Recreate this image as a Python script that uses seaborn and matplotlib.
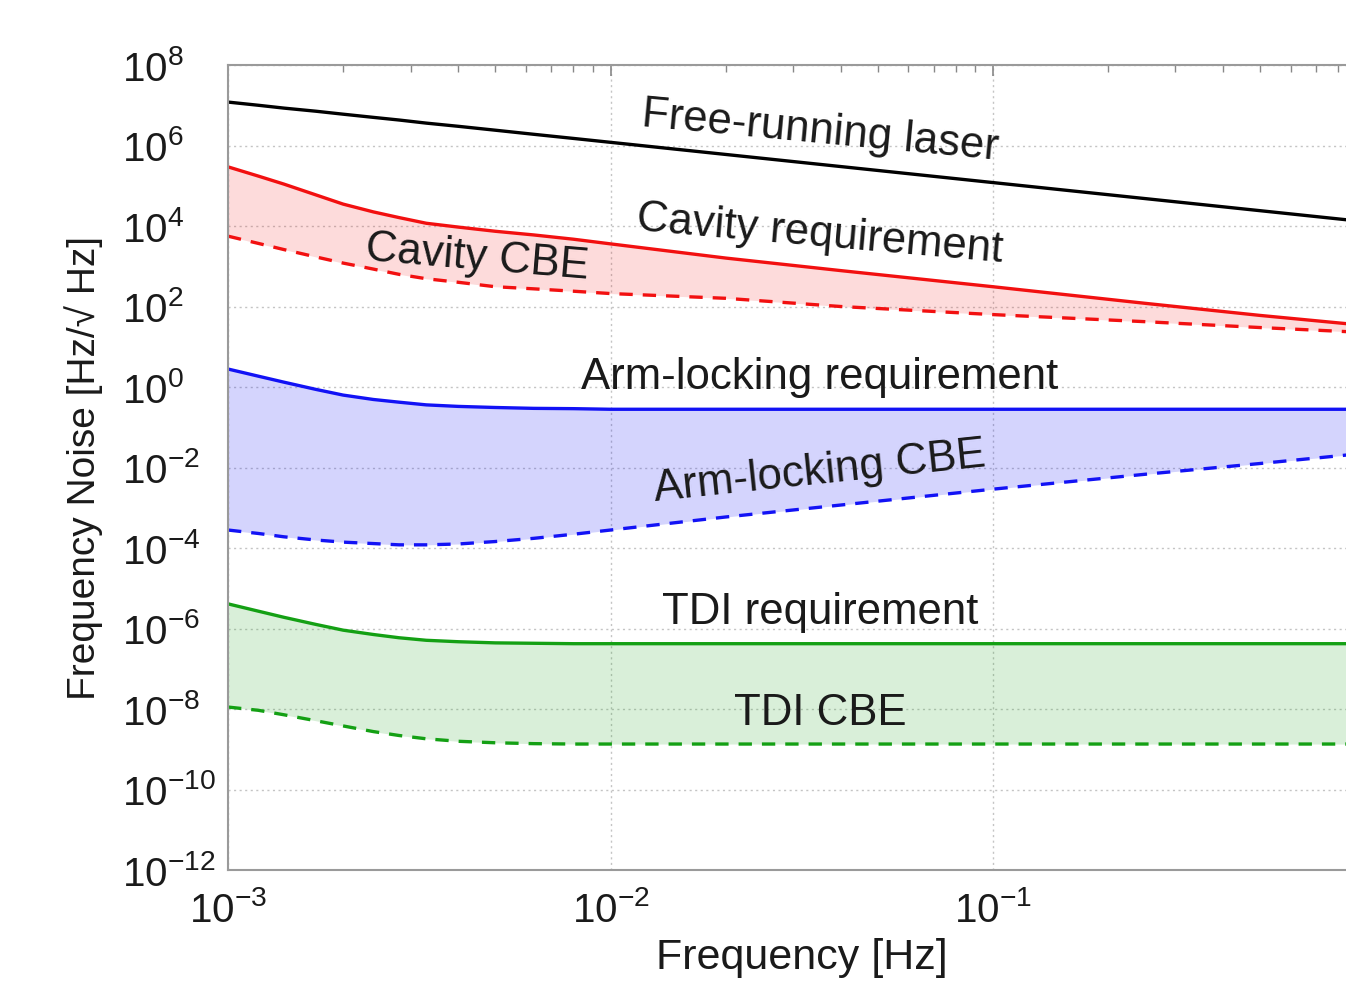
"""
Laser frequency noise: requirements vs. current best estimates (CBE).
"""

import numpy as np
import pandas as pd
import matplotlib
matplotlib.use("Agg")
import matplotlib.pyplot as plt
import matplotlib.ticker as mticker
import seaborn as sns

# Frekvence [Hz]
freq = [0.001, 0.0012, 0.0014, 0.0017, 0.002, 0.0024, 0.0028, 0.0033, 0.004, 0.005,
        0.0063, 0.008, 0.01, 0.02, 0.04, 0.1, 0.25, 0.5, 1.0]

# Hodnoty šumu [Hz/sqrt(Hz)]
free_running = [1.2e7, 1.0e7, 8.5e6, 7.1e6, 6.0e6, 5.0e6, 4.3e6, 3.6e6, 3.0e6, 2.4e6,
                1.9e6, 1.5e6, 1.2e6, 6.0e5, 3.0e5, 1.2e5, 4.8e4, 2.4e4, 1.2e4]
cavity_req = [2.95e5, 1.74e5, 1.1e5, 5.9e4, 3.5e4, 2.24e4, 1.62e4, 1.17e4, 9.4e3, 7.4e3,
              6.0e3, 4.7e3, 3.6e3, 1.6e3, 780, 310, 120, 60, 32]
cavity_cbe = [5.6e3, 3.7e3, 2.6e3, 1.7e3, 1.2e3, 850, 630, 490, 400, 310,
              275, 240, 210, 160, 100, 63, 42, 30, 22]
arm_req = [2.8, 1.86, 1.32, 0.87, 0.63, 0.49, 0.42, 0.36, 0.33, 0.31,
           0.295, 0.29, 0.28, 0.28, 0.28, 0.28, 0.28, 0.28, 0.28]
arm_cbe = [2.8e-4, 2.3e-4, 1.9e-4, 1.58e-4, 1.4e-4, 1.29e-4, 1.2e-4, 1.2e-4, 1.26e-4, 1.45e-4,
           1.74e-4, 2.2e-4, 2.8e-4, 5.9e-4, 1.17e-3, 2.9e-3, 6.8e-3, 1.26e-2, 2.4e-2]
tdi_req = [4.1e-6, 2.7e-6, 1.9e-6, 1.26e-6, 9.1e-7, 7.1e-7, 5.9e-7, 5.1e-7, 4.7e-7, 4.4e-7,
           4.3e-7, 4.2e-7, 4.2e-7, 4.2e-7, 4.2e-7, 4.2e-7, 4.2e-7, 4.2e-7, 4.2e-7]
tdi_cbe = [1.12e-8, 9.3e-9, 7.2e-9, 5.1e-9, 3.8e-9, 2.75e-9, 2.2e-9, 1.82e-9, 1.58e-9, 1.45e-9,
           1.38e-9, 1.35e-9, 1.35e-9, 1.35e-9, 1.35e-9, 1.35e-9, 1.35e-9, 1.35e-9, 1.35e-9]

x_ticks = [1e-3, 1e-2, 1e-1]
y_ticks = [1e-12, 1e-10, 1e-8, 1e-6, 1e-4, 1e-2, 1e0, 1e2, 1e4, 1e6, 1e8]

# Popisky křivek: text, frekvence, hodnota, natočení
labels = [
    ("Free-running laser", 0.0353, 2.2e6, -5.4),
    ("Cavity requirement", 0.0353, 6.0e3, -5.0),
    ("Cavity CBE", 0.00448, 1.6e3, -4.8),
    ("Arm-locking requirement", 0.0353, 1.7, 0),
    ("Arm-locking CBE", 0.0353, 7.8e-3, 6.0),
    ("TDI requirement", 0.0353, 2.5e-6, 0),
    ("TDI CBE", 0.0353, 7.6e-9, 0),
]

RED = "#f21010"
BLUE = "#1212f5"
GREEN = "#14a014"


def make_plot():
    sns.set_theme(style="white")
    plt.rcParams["font.family"] = ["Liberation Sans", "DejaVu Sans"]
    plt.rcParams["mathtext.fontset"] = "custom"
    plt.rcParams["mathtext.rm"] = "Liberation Sans"
    plt.rcParams["mathtext.it"] = "Liberation Sans:italic"
    plt.rcParams["mathtext.bf"] = "Liberation Sans:bold"

    fig = plt.figure(figsize=(13.46, 9.88), dpi=100)
    ax = fig.add_axes([0.1694, 0.1194, 0.8525, 0.8148])

    df = pd.DataFrame({
        "freq": freq,
        "free": free_running,
        "cav_req": cavity_req,
        "cav_cbe": cavity_cbe,
        "arm_req": arm_req,
        "arm_cbe": arm_cbe,
        "tdi_req": tdi_req,
        "tdi_cbe": tdi_cbe,
    })

    # Vyplněné oblasti mezi požadavkem a CBE
    ax.fill_between(df["freq"], df["cav_req"], df["cav_cbe"], color=RED, alpha=0.15, lw=0)
    ax.fill_between(df["freq"], df["arm_req"], df["arm_cbe"], color=BLUE, alpha=0.18, lw=0)
    ax.fill_between(df["freq"], df["tdi_req"], df["tdi_cbe"], color=GREEN, alpha=0.16, lw=0)

    lw = 2.4
    dash = (0, (4, 3))
    sns.lineplot(data=df, x="freq", y="free", ax=ax, color="black", lw=lw)
    sns.lineplot(data=df, x="freq", y="cav_req", ax=ax, color=RED, lw=lw)
    sns.lineplot(data=df, x="freq", y="cav_cbe", ax=ax, color=RED, lw=lw, linestyle=dash)
    sns.lineplot(data=df, x="freq", y="arm_req", ax=ax, color=BLUE, lw=lw)
    sns.lineplot(data=df, x="freq", y="arm_cbe", ax=ax, color=BLUE, lw=lw, linestyle=dash)
    sns.lineplot(data=df, x="freq", y="tdi_req", ax=ax, color=GREEN, lw=lw)
    sns.lineplot(data=df, x="freq", y="tdi_cbe", ax=ax, color=GREEN, lw=lw, linestyle=dash)

    ax.set_xscale("log")
    ax.set_yscale("log")
    ax.set_xlim(1e-3, 1)
    ax.set_ylim(1e-12, 1e8)

    ax.yaxis.set_major_locator(mticker.FixedLocator(y_ticks))
    ax.yaxis.set_major_formatter(mticker.LogFormatterSciNotation())
    ax.yaxis.set_minor_locator(mticker.NullLocator())
    ax.xaxis.set_major_locator(mticker.FixedLocator(x_ticks))
    ax.xaxis.set_major_formatter(mticker.LogFormatterSciNotation())
    ax.xaxis.set_minor_locator(mticker.LogLocator(base=10, subs=np.arange(2, 10), numticks=20))
    ax.xaxis.set_minor_formatter(mticker.NullFormatter())

    ax.tick_params(axis="both", which="both", direction="in", top=True, right=True,
                   colors="#888888", labelcolor="#1a1a1a", labelsize=29)
    ax.tick_params(axis="both", which="major", length=8, width=1.2)
    ax.tick_params(axis="x", which="minor", length=5, width=1)
    # popisky osy y zarovnané vlevo (styl MATLABu)
    ax.tick_params(axis="y", which="major", pad=76)
    ax.tick_params(axis="x", which="major", pad=15)
    plt.setp(ax.get_yticklabels(), ha="left")

    for sp in ax.spines.values():
        sp.set_color("#9a9a9a")
        sp.set_linewidth(1.5)

    ax.grid(True, which="major", color="#c4c4c4", linestyle=(0, (1.5, 2.5)), lw=1.0)

    ax.set_xlabel("Frequency [Hz]", fontsize=31, color="#1a1a1a", labelpad=6)
    ax.set_ylabel("Frequency Noise [Hz/√ Hz]", fontsize=28, color="#1a1a1a", labelpad=14)

    for text, x, y, rot in labels:
        ax.text(x, y, text, fontsize=31.5, color="#1a1a1a", ha="center", va="center",
                rotation=rot, rotation_mode="anchor")

    fig.savefig("out.png", dpi=100)
    plt.close(fig)


if __name__ == "__main__":
    make_plot()
